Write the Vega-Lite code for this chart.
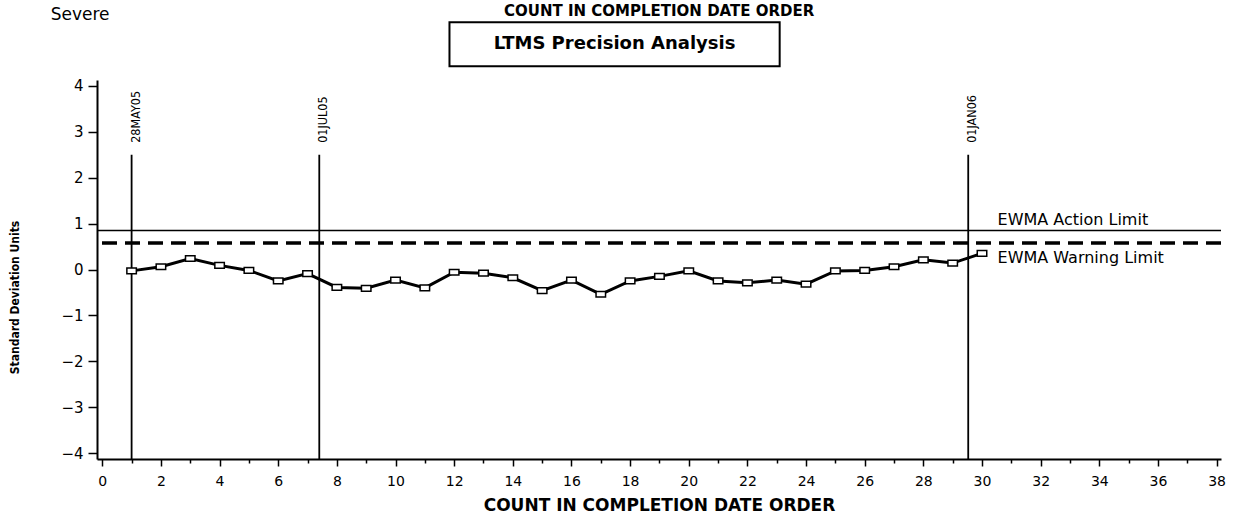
{
  "$schema": "https://vega.github.io/schema/vega-lite/v6.json",
  "width": 1124,
  "height": 379,
  "autosize": {"type": "none"},
  "padding": {"left": 97, "top": 80, "right": 23, "bottom": 59},
  "background": "white",
  "config": {"view": {"stroke": null}},
  "datasets": {
    "ewma": [
      {"count": 1, "ewma": -0.03},
      {"count": 2, "ewma": 0.06},
      {"count": 3, "ewma": 0.24},
      {"count": 4, "ewma": 0.09},
      {"count": 5, "ewma": -0.02},
      {"count": 6, "ewma": -0.25},
      {"count": 7, "ewma": -0.09},
      {"count": 8, "ewma": -0.39},
      {"count": 9, "ewma": -0.41},
      {"count": 10, "ewma": -0.23},
      {"count": 11, "ewma": -0.4},
      {"count": 12, "ewma": -0.06},
      {"count": 13, "ewma": -0.08},
      {"count": 14, "ewma": -0.18},
      {"count": 15, "ewma": -0.46},
      {"count": 16, "ewma": -0.23},
      {"count": 17, "ewma": -0.54},
      {"count": 18, "ewma": -0.25},
      {"count": 19, "ewma": -0.15},
      {"count": 20, "ewma": -0.03},
      {"count": 21, "ewma": -0.25},
      {"count": 22, "ewma": -0.29},
      {"count": 23, "ewma": -0.23},
      {"count": 24, "ewma": -0.32},
      {"count": 25, "ewma": -0.03},
      {"count": 26, "ewma": -0.02},
      {"count": 27, "ewma": 0.06},
      {"count": 28, "ewma": 0.21},
      {"count": 29, "ewma": 0.14},
      {"count": 30, "ewma": 0.35}
    ],
    "dates": [
      {"count": 1, "date": "28MAY05"},
      {"count": 7.4, "date": "01JUL05"},
      {"count": 29.53, "date": "01JAN06"}
    ],
    "limits": [
      {"limit": "EWMA Action Limit", "value": 0.85},
      {"limit": "EWMA Warning Limit", "value": 0.58}
    ]
  },
  "layer": [
    {
      "data": {"name": "ewma"},
      "mark": {"type": "line", "color": "black", "strokeWidth": 3},
      "encoding": {
        "x": {
          "field": "count",
          "type": "quantitative",
          "scale": {"domain": [-0.18, 38.15], "nice": false, "zero": false},
          "axis": {
            "tickCount": 77,
            "format": "d",
            "labelExpr": "abs(datum.value % 2) < 0.001 ? datum.label : ''",
            "tickSize": {"condition": {"test": "abs(datum.value % 2) < 0.001", "value": 7}, "value": 4},
            "tickWidth": 1.5,
            "tickColor": "black",
            "domainColor": "black",
            "domainWidth": 2,
            "grid": false,
            "labelFont": "DejaVu Sans",
            "labelFontSize": 14,
            "labelColor": "black",
            "labelPadding": 8,
            "labelFlush": false,
            "labelOverlap": false,
            "title": "COUNT IN COMPLETION DATE ORDER",
            "titleFont": "DejaVu Sans",
            "titleFontWeight": "bold",
            "titleFontSize": 17,
            "titleColor": "black",
            "titlePadding": 9
          }
        },
        "y": {
          "field": "ewma",
          "type": "quantitative",
          "scale": {"domain": [-4.13, 4.13], "nice": false, "zero": false},
          "axis": {
            "tickCount": 41,
            "format": "d",
            "labelExpr": "abs(datum.value - round(datum.value)) < 0.001 ? datum.label : ''",
            "tickSize": {"condition": {"test": "abs(datum.value - round(datum.value)) < 0.001", "value": 9}, "value": 4},
            "tickWidth": 1.5,
            "tickColor": "black",
            "domainColor": "black",
            "domainWidth": 2,
            "grid": false,
            "labelFont": "DejaVu Sans",
            "labelFontSize": 15,
            "labelColor": "black",
            "labelPadding": 5,
            "labelFlush": false,
            "labelOverlap": false,
            "title": "Standard Deviation Units",
            "titleFont": "'Liberation Sans Narrow', 'DejaVu Sans Condensed', 'Arial Narrow', 'Roboto Condensed', Roboto, sans-serif",
            "titleFontWeight": "bold",
            "titleFontSize": 12,
            "titleColor": "black",
            "titleAngle": 270,
            "titleAlign": "center",
            "titleBaseline": "middle",
            "titleX": -83,
            "titleY": 217
          }
        }
      }
    },
    {
      "data": {"name": "limits"},
      "transform": [{"filter": "datum.limit === 'EWMA Action Limit'"}],
      "mark": {"type": "rule", "color": "black", "strokeWidth": 1.5},
      "encoding": {
        "y": {"field": "value", "type": "quantitative", "scale": {"domain": [-4.13, 4.13], "nice": false, "zero": false}}
      }
    },
    {
      "data": {"name": "limits"},
      "transform": [{"filter": "datum.limit === 'EWMA Warning Limit'"}],
      "mark": {"type": "rule", "color": "black", "strokeWidth": 3.5, "strokeDash": [15, 8]},
      "encoding": {
        "y": {"field": "value", "type": "quantitative", "scale": {"domain": [-4.13, 4.13], "nice": false, "zero": false}}
      }
    },
    {
      "data": {"name": "limits"},
      "transform": [{"filter": "datum.limit === 'EWMA Action Limit'"}],
      "mark": {"type": "text", "font": "DejaVu Sans", "fontSize": 16, "color": "black", "align": "left", "baseline": "alphabetic", "dy": -5},
      "encoding": {
        "x": {"datum": 30.53, "type": "quantitative", "scale": {"domain": [-0.18, 38.15], "nice": false, "zero": false}},
        "y": {"field": "value", "type": "quantitative", "scale": {"domain": [-4.13, 4.13], "nice": false, "zero": false}},
        "text": {"field": "limit"}
      }
    },
    {
      "data": {"name": "limits"},
      "transform": [{"filter": "datum.limit === 'EWMA Warning Limit'"}],
      "mark": {"type": "text", "font": "DejaVu Sans", "fontSize": 16, "color": "black", "align": "left", "baseline": "alphabetic", "dy": 20},
      "encoding": {
        "x": {"datum": 30.53, "type": "quantitative", "scale": {"domain": [-0.18, 38.15], "nice": false, "zero": false}},
        "y": {"field": "value", "type": "quantitative", "scale": {"domain": [-4.13, 4.13], "nice": false, "zero": false}},
        "text": {"field": "limit"}
      }
    },
    {
      "data": {"name": "dates"},
      "mark": {"type": "rule", "color": "black", "strokeWidth": 1.8},
      "encoding": {
        "x": {"field": "count", "type": "quantitative", "scale": {"domain": [-0.18, 38.15], "nice": false, "zero": false}},
        "y": {"datum": 2.5, "type": "quantitative", "scale": {"domain": [-4.13, 4.13], "nice": false, "zero": false}},
        "y2": {"datum": -4.13}
      }
    },
    {
      "data": {"name": "dates"},
      "mark": {"type": "text", "font": "'Liberation Sans Narrow', 'DejaVu Sans Condensed', 'Arial Narrow', 'Roboto Condensed', Roboto, sans-serif", "fontSize": 12.5, "color": "black", "angle": 270, "align": "left", "baseline": "middle", "dx": 12, "dy": 4},
      "encoding": {
        "x": {"field": "count", "type": "quantitative", "scale": {"domain": [-0.18, 38.15], "nice": false, "zero": false}},
        "y": {"datum": 2.5, "type": "quantitative", "scale": {"domain": [-4.13, 4.13], "nice": false, "zero": false}},
        "text": {"field": "date"}
      }
    },
    {
      "data": {"name": "ewma"},
      "mark": {"type": "point", "shape": "M-1,-0.6H1V0.6H-1Z", "size": 90, "filled": true, "fill": "white", "stroke": "black", "strokeWidth": 1.5, "opacity": 1},
      "encoding": {
        "x": {"field": "count", "type": "quantitative", "scale": {"domain": [-0.18, 38.15], "nice": false, "zero": false}},
        "y": {"field": "ewma", "type": "quantitative", "scale": {"domain": [-4.13, 4.13], "nice": false, "zero": false}}
      }
    },
    {
      "data": {"values": [{}]},
      "mark": {"type": "rect", "fill": "white", "stroke": "black", "strokeWidth": 2},
      "encoding": {
        "x": {"datum": 11.84, "type": "quantitative", "scale": {"domain": [-0.18, 38.15], "nice": false, "zero": false}},
        "x2": {"datum": 23.1},
        "y": {"datum": 5.39, "type": "quantitative", "scale": {"domain": [-4.13, 4.13], "nice": false, "zero": false}},
        "y2": {"datum": 4.43}
      }
    },
    {
      "data": {"values": [{"text": "LTMS Precision Analysis"}]},
      "mark": {"type": "text", "font": "DejaVu Sans", "fontWeight": "bold", "fontSize": 18, "color": "black", "align": "center", "baseline": "middle"},
      "encoding": {
        "x": {"datum": 17.47, "type": "quantitative", "scale": {"domain": [-0.18, 38.15], "nice": false, "zero": false}},
        "y": {"datum": 4.91, "type": "quantitative", "scale": {"domain": [-4.13, 4.13], "nice": false, "zero": false}},
        "text": {"field": "text"}
      }
    },
    {
      "data": {"values": [{"text": "Severe"}]},
      "mark": {"type": "text", "font": "DejaVu Sans", "fontSize": 17, "color": "black", "align": "left", "baseline": "alphabetic"},
      "encoding": {
        "x": {"datum": -1.76, "type": "quantitative", "scale": {"domain": [-0.18, 38.15], "nice": false, "zero": false}},
        "y": {"datum": 5.43, "type": "quantitative", "scale": {"domain": [-4.13, 4.13], "nice": false, "zero": false}},
        "text": {"field": "text"}
      }
    },
    {
      "data": {"values": [{"text": "COUNT IN COMPLETION DATE ORDER"}]},
      "mark": {"type": "text", "font": "DejaVu Sans", "fontWeight": "bold", "fontSize": 15, "color": "black", "align": "center", "baseline": "alphabetic"},
      "encoding": {
        "x": {"datum": 18.99, "type": "quantitative", "scale": {"domain": [-0.18, 38.15], "nice": false, "zero": false}},
        "y": {"datum": 5.52, "type": "quantitative", "scale": {"domain": [-4.13, 4.13], "nice": false, "zero": false}},
        "text": {"field": "text"}
      }
    }
  ]
}
